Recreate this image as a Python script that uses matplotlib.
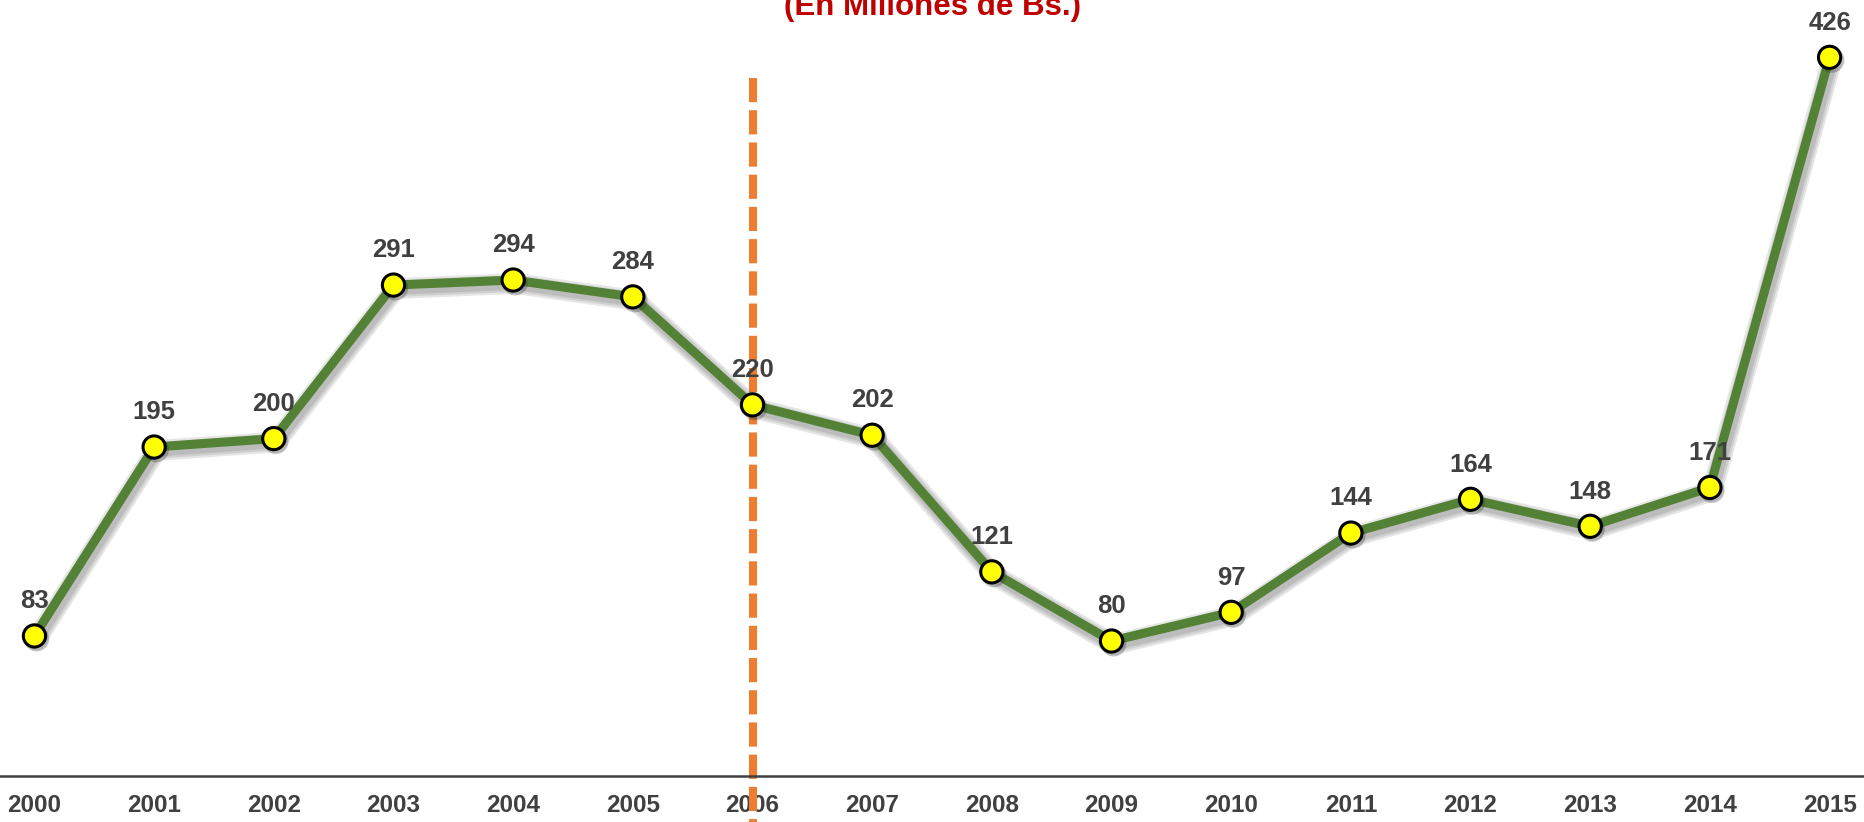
import matplotlib.pyplot as plt
import matplotlib.patheffects as pe

years = [2000, 2001, 2002, 2003, 2004, 2005, 2006, 2007,
         2008, 2009, 2010, 2011, 2012, 2013, 2014, 2015]
values = [83, 195, 200, 291, 294, 284, 220, 202,
          121, 80, 97, 144, 164, 148, 171, 426]
year_labels = [str(y) for y in years]
split_year = 2006

plt.rcParams['font.family'] = ['Liberation Sans', 'DejaVu Sans']

fig = plt.figure(figsize=(18.65, 8.22), dpi=100)
ax = fig.add_axes([0, 0.056, 1, 0.944])

# soft blurred shadow, faked with a few widening translucent strokes
line_shadow = [pe.SimpleLineShadow(offset=(1.5, -2.5), shadow_color='#333333',
                                   alpha=0.12, rho=1, linewidth=w) for w in (15, 12, 9)]
line_shadow.append(pe.Normal())
marker_shadow = [pe.SimpleLineShadow(offset=(1.5, -2), shadow_color='#333333', alpha=0.3),
                 pe.Normal()]

# dashed split line
ax.plot([split_year, split_year], [414, -30], color='#ED7D31', lw=5.8,
        linestyle=(0, (3, 1)), dash_capstyle='butt', clip_on=False, zorder=2)

# main line + markers
ax.plot(years, values, color='#538135', lw=6.5, zorder=3,
        solid_capstyle='round', path_effects=line_shadow)
ax.plot(years, values, linestyle='none', marker='o', markersize=16,
        markerfacecolor='#FFFF00', markeredgecolor='black', markeredgewidth=2.2,
        zorder=4, path_effects=marker_shadow)

for x, v in zip(years, values):
    ax.annotate(str(v), (x, v), xytext=(0, 25), textcoords='offset points',
                ha='center', va='center', fontsize=18.5, fontweight='bold',
                color='#404040', zorder=5)

ax.set_xlim(1999.712, 2015.296)
ax.set_ylim(0, 460)
ax.set_xticks(years)
ax.set_xticklabels(year_labels, fontsize=17.5, fontweight='bold', color='#404040')
ax.tick_params(axis='x', length=0, pad=13)
ax.set_yticks([])
for s in ['top', 'right', 'left']:
    ax.spines[s].set_visible(False)
ax.spines['bottom'].set_color('#404040')
ax.spines['bottom'].set_linewidth(1.8)

fig.text(0.5, 1 - 15 / 822, '(En Millones de Bs.)', ha='center', va='baseline',
         fontsize=22.5, fontweight='bold', color='#C00000')

fig.savefig('out.png', dpi=100)
